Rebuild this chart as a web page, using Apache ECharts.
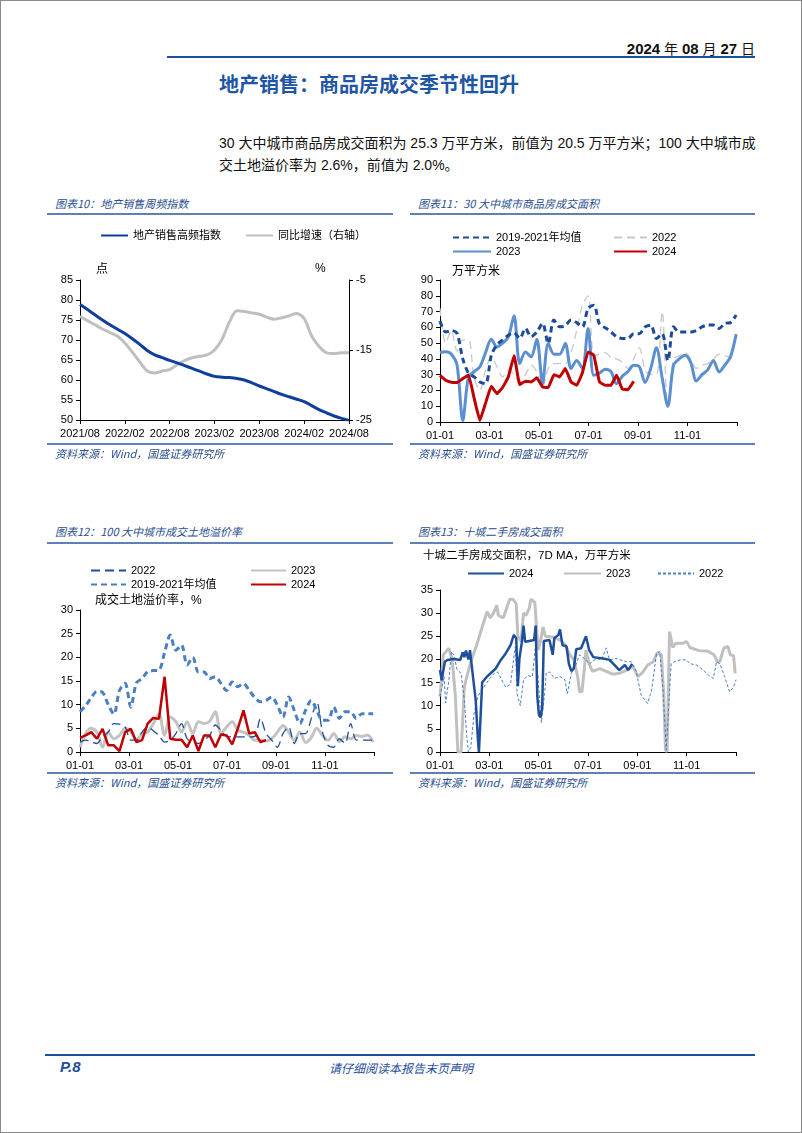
<!DOCTYPE html>
<html><head><meta charset="utf-8">
<script src="https://cdn.jsdelivr.net/npm/echarts/dist/echarts.min.js"></script>
<style>
body{margin:0;width:802px;height:1133px;position:relative;background:#fff;overflow:hidden;font-family:'Liberation Sans','Noto Sans CJK SC',sans-serif}
#frame{position:absolute;left:0;top:0;width:802px;height:1133px;box-sizing:border-box;border:1px solid #8a8a8a;z-index:6;pointer-events:none}
.t{position:absolute;white-space:nowrap;z-index:3}
.ln{position:absolute;z-index:3}
.ct{font-size:11px;font-style:italic;color:#2a4f8f;font-family:'Noto Sans CJK SC','Liberation Sans',sans-serif}
.ch{position:absolute;z-index:2}
</style></head><body>
<div id="frame"></div>
<div class="t" style="right:47px;top:38px;font-size:14px;color:#111;font-family:'Liberation Sans Narrow','Liberation Sans','Noto Sans CJK SC',sans-serif"><b style="font-size:15px">2024</b> 年 <b style="font-size:15px">08</b> 月 <b style="font-size:15px">27</b> 日</div>
<div class="ln" style="left:167px;top:56px;width:588px;height:2px;background:#1f4e9a"></div>
<div class="t" style="left:219px;top:69px;font-size:20px;font-weight:bold;color:#1f55a5;font-family:'Noto Sans CJK SC',sans-serif">地产销售：商品房成交季节性回升</div>
<div class="t" style="left:219px;top:132px;font-size:14px;line-height:22px;color:#111">30 大中城市商品房成交面积为 25.3 万平方米，前值为 20.5 万平方米；100 大中城市成<br>交土地溢价率为 2.6%，前值为 2.0%。</div>

<div class="t ct" style="left:55px;top:195px">图表10：地产销售周频指数</div>
<div class="ln" style="left:47px;top:213px;width:346px;height:2px;background:#5f80b6"></div>
<div class="ln" style="left:47px;top:443px;width:346px;height:2px;background:#5f80b6"></div>
<div class="t ct" style="left:55px;top:445px">资料来源：Wind，国盛证券研究所</div>

<div class="t ct" style="left:418px;top:195px">图表11：30 大中城市商品房成交面积</div>
<div class="ln" style="left:410px;top:213px;width:345px;height:2px;background:#5f80b6"></div>
<div class="ln" style="left:410px;top:443px;width:345px;height:2px;background:#5f80b6"></div>
<div class="t ct" style="left:418px;top:445px">资料来源：Wind，国盛证券研究所</div>

<div class="t ct" style="left:55px;top:523px">图表12：100 大中城市成交土地溢价率</div>
<div class="ln" style="left:47px;top:542px;width:346px;height:2px;background:#5f80b6"></div>
<div class="ln" style="left:47px;top:772px;width:346px;height:2px;background:#5f80b6"></div>
<div class="t ct" style="left:55px;top:774px">资料来源：Wind，国盛证券研究所</div>

<div class="t ct" style="left:418px;top:523px">图表13：十城二手房成交面积</div>
<div class="ln" style="left:410px;top:542px;width:345px;height:2px;background:#5f80b6"></div>
<div class="ln" style="left:410px;top:772px;width:345px;height:2px;background:#5f80b6"></div>
<div class="t ct" style="left:418px;top:774px">资料来源：Wind，国盛证券研究所</div>

<div class="ln" style="left:45px;top:1054px;width:710px;height:2px;background:#1f4e9a"></div>
<div class="t" style="left:60px;top:1058px;font-size:15px;font-weight:bold;font-style:italic;color:#1f4e9a">P.8</div>
<div class="t" style="left:0;width:802px;text-align:center;top:1059px;font-size:12px;font-style:italic;color:#1f4e9a;font-family:'Noto Sans CJK SC',sans-serif">请仔细阅读本报告末页声明</div>

<div id="c10" class="ch" style="left:40px;top:220px;width:365px;height:225px"></div>
<div id="c11" class="ch" style="left:405px;top:222px;width:360px;height:223px"></div>
<div id="c12" class="ch" style="left:40px;top:550px;width:365px;height:222px"></div>
<div id="c13" class="ch" style="left:405px;top:546px;width:360px;height:226px"></div>

<script>
// ---------- Chart 10 data (monthly, 2021/08 - 2024/08) ----------
const startYear10 = 2021, startMonth10 = 8, nMonths10 = 37;
const index10 = [78.9,77.6,76.3,75.0,73.8,72.7,71.6,70.3,68.9,67.4,66.3,65.6,64.9,64.3,63.6,62.9,62.2,61.5,60.9,60.7,60.6,60.4,60.0,59.3,58.5,57.8,57.1,56.4,55.8,55.2,54.6,53.6,52.6,51.8,51.0,50.4,49.9];
const yoy10 = [-10.2,-10.8,-11.4,-12.0,-12.5,-13.0,-14.0,-15.3,-16.7,-18.0,-18.3,-18.0,-17.8,-17.1,-16.5,-16.1,-15.9,-15.7,-15.0,-13.5,-11.0,-9.4,-9.5,-9.7,-9.9,-10.3,-10.6,-10.4,-10.1,-9.8,-10.5,-13.0,-14.5,-15.4,-15.5,-15.4,-15.4];

// ---------- Chart 11 data (weekly, 万平方米) ----------
const avg11 = [64,57,58,56,40,31,28.6,25.4,24.3,42,49,52,55,56.5,53,59.3,54,57,62.5,49.7,64.6,60.3,61,64.6,63,60.3,72,74,62,59.7,57.2,54,53,53,56,56,60.3,61.4,53,56,39,60.3,57,57,57,58,60.3,61.4,61.4,59.3,62.5,63,67.8];
const y2022_11 = [72,50,58,45,52,52,28,20,33,41,35,28.6,33,30,25.4,30,36,31.8,22,34,37,37,37,44,58,74,80,42,43,44,41,40,38,34,40,47,33,30,30,70,9.5,40,42,44,40,34,36,37,40,43,42,41,38];
const y2023_11 = [44,44.5,43,36,1,28.6,32,35,44,52.5,47.6,50,54,67.3,37,44.4,41.3,52.5,24.3,49.7,43,43,49.7,33.9,39,33.9,59.3,29.6,31,33.5,32,24.3,29,32,36,35,25,34,47,28,10,36,40,42.3,38,26,30,33,39,31.7,36,41.3,55.7];
const y2024_11 = [29.6,26.5,25.2,25,27.5,29.8,15,1,12,22.6,18,22,28.6,42,23.7,25.8,25.4,28,22.2,21.8,30,28.6,33.9,25.4,23.3,31.2,44.4,42.3,25.4,23.3,23.3,29.6,20.8,20.5,25.8];

// ---------- Chart 12 data (weekly, %) ----------
const y2022_12 = [2.1,2.5,2.1,1.8,3.2,4.2,6,5.9,5.3,2.5,2.5,4.2,5.3,4.5,3.5,2.1,2.5,3.9,6,2.8,2.1,1.8,2.5,3.5,5.7,4.6,3.3,3.2,3.2,3.2,3.2,3.3,7.1,3.9,2.5,1,3.9,5.3,1.8,3.9,3.9,7,10.6,4.2,1.4,1,2.8,1.8,6,2.5,2.5,2.5,2.5];
const y2023_12 = [1,3.9,5,4.2,1,4.2,2.8,3.5,5,4.2,2.5,3.9,4.2,6,8.1,3.5,7.4,6.4,4.2,6.4,3.9,6.4,6,6.5,8.5,3.9,5.3,6.4,4.6,4.2,3.5,2.5,2.5,2.3,2.8,4.2,5.6,4.2,2.5,4.2,2,3,5,3.5,2.5,3.9,2.2,3.2,2.8,3.5,3.3,3.6,2.1];
const avg12 = [8.5,9.8,11.5,12.8,12.6,10,8,13,14.5,9.5,14.6,15.5,17,17.2,17.3,21,24.7,21.5,22.6,18.4,20,16.9,16.9,15.5,15.9,14.5,13,14.8,13.8,14.5,13,11.5,10.6,10.9,11.6,9.9,7.4,11.6,8.8,6,8.8,10.9,8.8,6.7,6.7,9.5,7.1,8.5,8.5,7.1,8.1,8.1,8.1];
const y2024_12 = [3,3.5,4.2,2.8,4.9,1.4,1.4,0.2,4.2,4.9,2.1,2.5,6,7.2,7,15.9,2.8,2.6,2.6,1,3.5,0.2,3.5,3.5,1,3.7,3.5,1.6,5,8.8,3.9,4.2,2.1,2.5];

// ---------- Chart 13 data ([day of year, 7D MA 万平方米]) ----------
const s2024_13 = [[0,17.7],[2,15.5],[4,15.5],[6,19.5],[9,19.9],[17,20.1],[25,19.9],[28,21.5],[30,20.5],[32,21.9],[35,20],[37,22],[40,17.3],[44,11.2],[47,2],[48,0],[50,0],[52,15],[58,16.3],[69,18.1],[75,19.9],[81,21.3],[87,23.1],[91,25.3],[94,24.6],[96,14.2],[98,20.3],[101,23.8],[103,27.3],[105,23.8],[110,24],[116,24.2],[118,27.3],[120,12],[122,8],[124,7.5],[126,9.6],[128,24],[135,24.2],[139,21],[141,24.6],[146,25.3],[148,26.5],[151,23.1],[156,22.8],[159,19],[162,17.5],[165,18],[168,22.2],[174,22.4],[180,25],[184,22],[189,20.5],[201,20.2],[209,19.9],[215,18.8],[221,17.7],[228,18.8],[232,17.7],[237,19]];
const s2023_13 = [[0,12],[2,16],[4,21],[11,22.4],[15,20],[19,12],[22,0],[26,0],[30,14],[34,16.9],[38,19.5],[45,23],[52,27],[58,30.3],[62,29],[66,30],[70,31.7],[72,29.5],[78,29],[82,31],[86,33],[90,33],[94,32],[96,25],[100,23.9],[103,30],[106,29.5],[110,31],[112,33],[117,32.3],[119,27],[121,22],[124,24],[127,27],[130,25],[140,24.8],[150,24],[155,23],[160,21],[165,20],[170,16],[172,13],[175,13],[178,18],[180,22],[184,19],[188,17.4],[197,18],[205,17.4],[213,16.8],[221,17],[230,17.7],[238,18.5],[244,16.3],[250,17.2],[256,18.8],[263,19.5],[268,21.5],[273,21],[276,12],[278,0.5],[280,0],[283,26],[287,22.6],[291,23.5],[300,23.5],[304,23.9],[308,22.6],[314,22.2],[320,21.9],[330,21.8],[338,21],[342,19.5],[345,19.5],[350,22.5],[355,22.8],[358,21],[362,20.8],[364,17]];
const s2022_13 = [[0,12],[5,16.3],[7,10.6],[11,15.6],[14,21.7],[17,21],[21,17.8],[26,17],[30,11.2],[33,3.3],[35,0],[38,1],[42,8.3],[47,12.2],[54,14],[61,15.8],[67,17],[71,17.3],[76,15.6],[81,14],[87,14.7],[90,19.1],[93,22.9],[95,12.6],[99,10],[103,15.6],[108,16.5],[114,16.3],[118,23.5],[121,15.6],[125,6.3],[129,12.6],[131,17.1],[135,17.3],[141,15.9],[148,16.3],[154,15.6],[157,12.6],[162,17],[168,19],[172,21],[180,19.9],[184,19],[193,20.2],[199,19.9],[205,22.5],[209,19.9],[217,20.2],[230,19.5],[236,19.5],[242,17.4],[248,12.3],[256,10.5],[261,13.4],[267,21.3],[271,21.7],[275,13.4],[279,0.4],[281,0],[285,19.1],[289,19.5],[296,19.9],[304,19.9],[308,19.1],[316,18.8],[324,17.8],[331,16.6],[337,15.9],[341,19.5],[345,19.1],[351,16.3],[357,13],[362,14],[365,15.6]];

const yearTicks = ['01-01','03-01','05-01','07-01','09-01','11-01',''];

// ---------- helpers ----------
const FONT = "'Liberation Sans','Noto Sans CJK SC',sans-serif";
const txt = {color:'#000', fontSize:11, fontFamily:FONT};
const weekX = i => i*7*12/365;
const dayX = d => d*12/365;
const weekly = arr => arr.map((v,i)=>[weekX(i), v]);
const daily = arr => arr.map(p=>[dayX(p[0]), p[1]]);
const axLine = {show:true, lineStyle:{color:'#000', width:1}};
function yearAxis(){
  return {type:'value', min:0, max:12, interval:2, axisLine:axLine,
    axisTick:{show:true, length:4, lineStyle:{color:'#000'}}, splitLine:{show:false},
    axisLabel:Object.assign({formatter:v=>yearTicks[Math.round(v/2)], margin:8, showMaxLabel:true}, txt)};
}
function valAxis(min,max,interval){
  return {type:'value', min, max, interval, axisLine:axLine,
    axisTick:{show:true, length:4, lineStyle:{color:'#000'}}, splitLine:{show:false},
    axisLabel:Object.assign({margin:7}, txt)};
}
function legend(names, left, top, w, orient){
  return {data:names, left, top, orient:orient||'horizontal', itemWidth:w, itemHeight:10, itemGap:3,
    selectedMode:false, textStyle:txt, itemStyle:{opacity:0, borderWidth:0}};
}
function line(name, data, color, width, type, z, smooth, yIdx){
  return {name, type:'line', data, symbol:'none', showSymbol:false, z, smooth:smooth||false,
    yAxisIndex:yIdx||0, animation:false,
    lineStyle:{color, width, type:type||'solid'}, itemStyle:{color}};
}

// ---------- Chart 10 ----------
const months10 = [];
for(let k=0;k<nMonths10;k++){
  const m = startMonth10-1+k; const y = startYear10 + Math.floor(m/12);
  months10.push(y + '/' + String(m%12+1).padStart(2,'0'));
}
echarts.init(document.getElementById('c10')).setOption({
  animation:false,
  grid:{left:40, top:60, width:269, height:140},
  legend:[legend(['地产销售高频指数'],55,5,27), legend(['同比增速（右轴）'],200,5,27)],
  xAxis:{type:'category', data:months10, boundaryGap:false, axisLine:axLine,
    axisTick:{show:true, interval:5, length:4, lineStyle:{color:'#000'}},
    axisLabel:Object.assign({interval:5, margin:8}, txt)},
  yAxis:[Object.assign(valAxis(50,85,5),{position:'left'}),
         Object.assign(valAxis(-25,-5,10),{position:'right'})],
  graphic:[{type:'text', left:56, top:44, style:{text:'点', fontSize:12, fill:'#000', fontFamily:FONT}},
           {type:'text', left:275, top:43, style:{text:'%', fontSize:12, fill:'#000', fontFamily:FONT}}],
  series:[line('地产销售高频指数', index10, '#0e3f9e', 3, 'solid', 3, 0.3, 0),
          line('同比增速（右轴）', yoy10, '#bfbfbf', 3, 'solid', 2, 0.3, 1)]
});

// ---------- Chart 11 ----------
echarts.init(document.getElementById('c11')).setOption({
  animation:false,
  grid:{left:35, top:58, width:297, height:142},
  legend:[legend(['2019-2021年均值','2023'],42,5,38,'vertical'), legend(['2022','2024'],203,5,33,'vertical')],
  xAxis:yearAxis(),
  yAxis:valAxis(0,90,10),
  graphic:[{type:'text', left:47, top:44, style:{text:'万平方米', fontSize:12, fill:'#000', fontFamily:FONT}}],
  series:[line('2019-2021年均值', weekly(avg11), '#1c4b9b', 3, [6,4], 3, 0.3),
          line('2022', weekly(y2022_11), '#c8c8c8', 1.3, [8,5], 1, 0.3),
          line('2023', weekly(y2023_11), '#5b8fd0', 3, 'solid', 2, 0.3),
          line('2024', weekly(y2024_11), '#c00000', 3, 'solid', 4, 0.1)]
});

// ---------- Chart 12 ----------
echarts.init(document.getElementById('c12')).setOption({
  animation:false,
  grid:{left:40, top:60, width:294, height:142},
  legend:[legend(['2022','2019-2021年均值'],45,10,35,'vertical'), legend(['2023','2024'],205,10,35,'vertical')],
  xAxis:yearAxis(),
  yAxis:valAxis(0,30,5),
  graphic:[{type:'text', left:55, top:45, style:{text:'成交土地溢价率，%', fontSize:12, fill:'#000', fontFamily:FONT}}],
  series:[line('2022', weekly(y2022_12), '#1f4e9a', 1.3, [9,5], 2, 0.3),
          line('2023', weekly(y2023_12), '#c3c3c3', 3, 'solid', 1, 0.3),
          line('2019-2021年均值', weekly(avg12), '#4a7fc4', 3, [6,4], 3, 0.3),
          line('2024', weekly(y2024_12), '#c00000', 2.5, 'solid', 4, false)]
});

// ---------- Chart 13 ----------
echarts.init(document.getElementById('c13')).setOption({
  animation:false,
  grid:{left:35, top:44, width:296, height:162},
  legend:[legend(['2024'],57,17,36), legend(['2023'],153,17,37), legend(['2022'],247,17,36)],
  xAxis:yearAxis(),
  yAxis:valAxis(0,35,5),
  graphic:[{type:'text', left:18, top:4, style:{text:'十城二手房成交面积，7D MA，万平方米', fontSize:11.5, fill:'#000', fontFamily:FONT}}],
  series:[line('2024', daily(s2024_13), '#1f4e9a', 2.5, 'solid', 4, false),
          line('2023', daily(s2023_13), '#c0c0c0', 3, 'solid', 1, false),
          line('2022', daily(s2022_13), '#4a7ec5', 1, [3,2], 2, false)]
});
</script>
</body></html>
